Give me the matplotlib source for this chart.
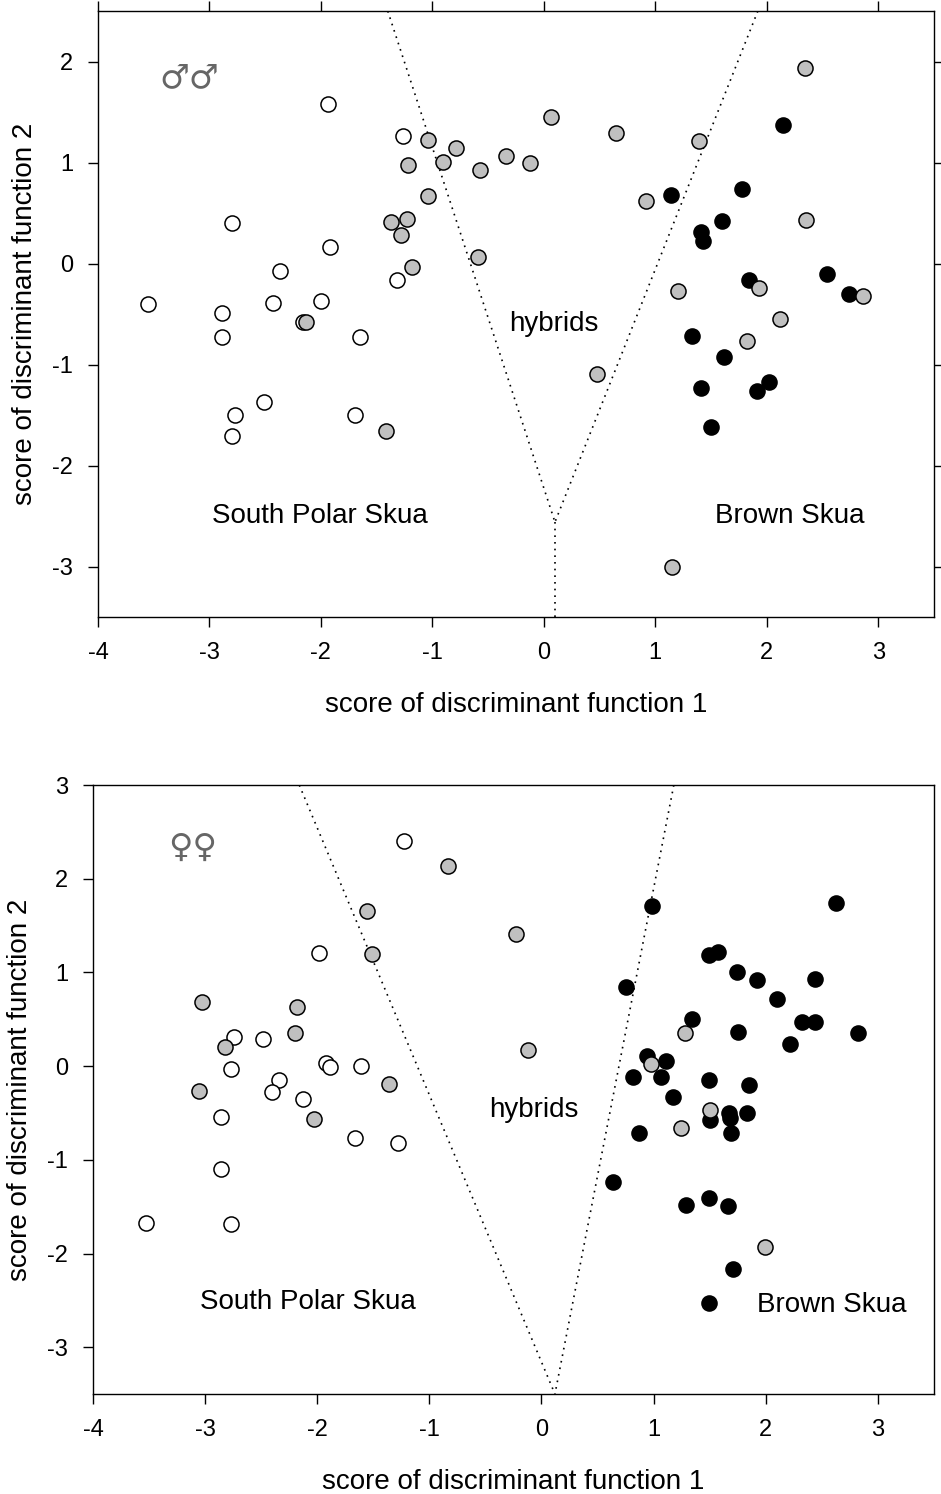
import matplotlib
matplotlib.use("Agg")
import matplotlib.pyplot as plt

plt.rcParams['font.family'] = ['Liberation Sans', 'DejaVu Sans']
plt.rcParams['axes.unicode_minus'] = False

# ---------------- Males (top panel) ----------------
m_sps_x = [-3.55, -2.89, -2.89, -2.80, -2.77, -2.80, -2.51, -2.43, -2.37, -2.16, -2.00, -1.92, -1.94, -1.65, -1.69, -1.26, -1.32]
m_sps_y = [-0.40, -0.49, -0.73, 0.40, -1.50, -1.71, -1.37, -0.39, -0.07, -0.58, -0.37, 0.16, 1.58, -0.73, -1.50, 1.26, -0.16]

m_hyb_x = [-2.13, -1.42, -1.37, -1.23, -1.28, -1.18, -1.22, -1.04, -1.04, -0.90, -0.79, -0.57, -0.59, -0.34, -0.12, 0.06,
           0.65, 0.48, 0.92, 1.39, 1.20, 1.15, 2.34, 2.35, 1.93, 1.82, 2.12, 2.86]
m_hyb_y = [-0.58, -1.66, 0.41, 0.44, 0.28, -0.03, 0.98, 1.22, 0.67, 1.01, 1.14, 0.93, 0.06, 1.06, 1.00, 1.45,
           1.29, -1.09, 0.62, 1.21, -0.27, -3.00, 1.94, 0.43, -0.24, -0.77, -0.55, -0.32]

m_bs_x = [1.14, 2.15, 1.78, 1.60, 1.41, 1.43, 1.84, 2.54, 2.74, 1.33, 1.62, 1.41, 1.91, 2.02, 1.50]
m_bs_y = [0.68, 1.37, 0.74, 0.42, 0.31, 0.22, -0.16, -0.10, -0.30, -0.72, -0.93, -1.23, -1.26, -1.17, -1.62]

m_line_left_x = [-1.40, 0.10]
m_line_left_y = [2.5, -2.56]
m_line_right_x = [1.92, 0.10]
m_line_right_y = [2.5, -2.56]
m_line_vert_x = [0.10, 0.10]
m_line_vert_y = [-2.56, -3.5]

# ---------------- Females (bottom panel) ----------------
f_sps_x = [-1.23, -1.98, -2.74, -2.48, -2.77, -1.92, -1.89, -1.61, -2.34, -2.40, -2.13, -2.86, -1.66, -1.28, -2.86, -3.53, -2.77]
f_sps_y = [2.40, 1.21, 0.31, 0.29, -0.03, 0.03, -0.01, 0.00, -0.15, -0.28, -0.35, -0.54, -0.77, -0.82, -1.10, -1.67, -1.69]

f_hyb_x = [-0.83, -1.56, -1.51, -0.23, -0.12, -3.03, -2.18, -2.20, -2.82, -3.05, -1.36, -2.03,
           1.28, 0.98, 1.50, 1.24, 1.99]
f_hyb_y = [2.14, 1.66, 1.20, 1.41, 0.17, 0.69, 0.63, 0.35, 0.20, -0.27, -0.19, -0.56,
           0.35, 0.02, -0.47, -0.66, -1.93]

f_bs_x = [0.99, 2.63, 1.49, 1.57, 1.74, 1.92, 2.44, 0.75, 2.10, 1.34, 2.32, 2.44, 2.82, 1.75, 2.22, 0.94, 1.11,
          0.82, 1.07, 1.49, 1.85, 1.17, 1.67, 1.83, 1.50, 1.68, 0.87, 1.69, 0.64, 1.29, 1.49, 1.66, 1.71, 1.49]
f_bs_y = [1.71, 1.74, 1.19, 1.22, 1.00, 0.92, 0.93, 0.84, 0.72, 0.50, 0.47, 0.47, 0.35, 0.36, 0.24, 0.11, 0.05,
          -0.12, -0.12, -0.15, -0.20, -0.33, -0.50, -0.50, -0.58, -0.55, -0.71, -0.71, -1.24, -1.48, -1.41, -1.49, -2.17, -2.53]

f_line_left_x = [-2.16, 0.12]
f_line_left_y = [3.0, -3.5]
f_line_right_x = [1.18, 0.12]
f_line_right_y = [3.0, -3.5]

xticks = [-4, -3, -2, -1, 0, 1, 2, 3]
m_yticks = [-3, -2, -1, 0, 1, 2]
f_yticks = [-3, -2, -1, 0, 1, 2, 3]

fig = plt.figure(figsize=(9.41, 14.94), dpi=100)
ax1 = fig.add_axes([0.1041, 0.5870, 0.8884, 0.4056])
ax2 = fig.add_axes([0.0988, 0.0669, 0.8937, 0.4076])

S = 118
EW = 1.1
GRAY = '#c0c0c0'
dots = (0, (1, 3))
DLW = 1.2
SYMCOL = '#666666'


def style(ax, yticks, ylim, mirror):
    ax.set_xlim(-4, 3.5)
    ax.set_ylim(*ylim)
    ax.set_xticks(xticks)
    ax.set_yticks(yticks)
    ax.tick_params(direction='out', length=7, width=1.0, labelsize=17, pad=11,
                   top=mirror, right=mirror)
    for sp in ax.spines.values():
        sp.set_linewidth(1.0)
    ax.set_xlabel('score of discriminant function 1', fontsize=20, labelpad=20)
    ax.set_ylabel('score of discriminant function 2', fontsize=20, labelpad=10)


# top
ax1.plot(m_line_left_x, m_line_left_y, color='black', lw=DLW, linestyle=dots, zorder=1)
ax1.plot(m_line_right_x, m_line_right_y, color='black', lw=DLW, linestyle=dots, zorder=1)
ax1.plot(m_line_vert_x, m_line_vert_y, color='black', lw=DLW, linestyle=dots, zorder=1)
ax1.scatter(m_sps_x, m_sps_y, s=S, facecolor='white', edgecolor='black', linewidths=EW, zorder=2)
ax1.scatter(m_bs_x, m_bs_y, s=S, facecolor='black', edgecolor='black', linewidths=EW, zorder=3)
ax1.scatter(m_hyb_x, m_hyb_y, s=S, facecolor=GRAY, edgecolor='black', linewidths=EW, zorder=4)
ax1.text(0.09, -0.6, 'hybrids', fontsize=20, ha='center', va='center')
ax1.text(-2.01, -2.5, 'South Polar Skua', fontsize=20, ha='center', va='center')
ax1.text(2.21, -2.5, 'Brown Skua', fontsize=20, ha='center', va='center')
ax1.text(-3.18, 1.84, '\u2642\u2642', fontsize=24, ha='center', va='center', color=SYMCOL,
         family='DejaVu Sans')
style(ax1, m_yticks, (-3.5, 2.5), True)

# bottom
ax2.plot(f_line_left_x, f_line_left_y, color='black', lw=DLW, linestyle=dots, zorder=1)
ax2.plot(f_line_right_x, f_line_right_y, color='black', lw=DLW, linestyle=dots, zorder=1)
ax2.scatter(f_sps_x, f_sps_y, s=S, facecolor='white', edgecolor='black', linewidths=EW, zorder=2)
ax2.scatter(f_bs_x, f_bs_y, s=S, facecolor='black', edgecolor='black', linewidths=EW, zorder=3)
ax2.scatter(f_hyb_x, f_hyb_y, s=S, facecolor=GRAY, edgecolor='black', linewidths=EW, zorder=4)
ax2.text(-0.07, -0.47, 'hybrids', fontsize=20, ha='center', va='center')
ax2.text(-2.08, -2.52, 'South Polar Skua', fontsize=20, ha='center', va='center')
ax2.text(2.59, -2.55, 'Brown Skua', fontsize=20, ha='center', va='center')
ax2.text(-3.11, 2.34, '\u2640\u2640', fontsize=24, ha='center', va='center', color=SYMCOL,
         family='DejaVu Sans')
style(ax2, f_yticks, (-3.5, 3.0), False)

fig.savefig('out.png', dpi=100)
